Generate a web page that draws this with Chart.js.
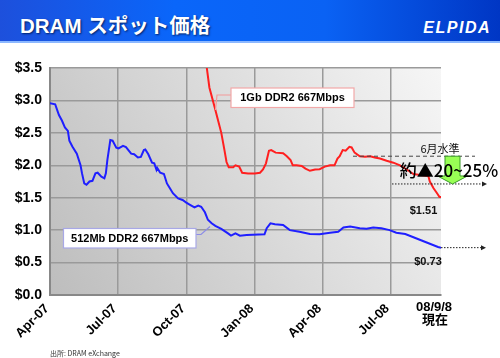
<!DOCTYPE html>
<html><head><meta charset="utf-8">
<script src="https://cdn.jsdelivr.net/npm/chart.js@4"></script>
<style>
html,body{margin:0;padding:0;background:#fff;}
#wrap{position:relative;width:500px;height:358px;overflow:hidden;}
#hdr{position:absolute;left:0;top:0;width:500px;height:41px;background:linear-gradient(90deg,#1d50dc 0%,#0a66fa 35%,#0a62f4 65%,#0036c4 100%);border-bottom:2px solid #8cb8ff;z-index:2;}
#ttl{position:absolute;left:20px;top:9px;color:#fff;font:bold 20.5px 'Liberation Sans','Noto Sans CJK JP',sans-serif;text-shadow:1px 1px 2px #002266;white-space:nowrap;}
#logo{position:absolute;right:9px;top:19px;color:#fff;font:italic bold 16px 'Liberation Sans',sans-serif;letter-spacing:1.5px;}
canvas{position:absolute;left:0;top:0;}
</style></head>
<body><div id="wrap">
<canvas id="c" width="500" height="358"></canvas>
<div id="hdr"><div id="ttl">DRAM スポット価格</div><div id="logo">ELPIDA</div></div>
</div>
<script>
// x values: days since 2007-04-01
const tickDays = [0, 91, 183, 275, 366, 457];
const tickLabels = ['Apr-07', 'Jul-07', 'Oct-07', 'Jan-08', 'Apr-08', 'Jul-08'];
const endDay = 525; // 2008-09-08
const endLabel = ['08/9/8', '現在'];

const blueName = '512Mb DDR2 667Mbps';
const blueDays = [0,7,12,16,20,24,26,30,36,41,43,46,49,53,57,61,64,69,73,75,77,81,84,89,92,98,102,109,113,118,122,126,128,132,137,140,143,144,148,153,157,161,165,172,178,183,188,194,199,203,208,212,217,222,230,239,243,249,255,264,288,291,296,302,313,322,335,349,362,376,387,394,403,416,425,434,445,456,465,477,488,499,510,521,525];
const blueValues = [2.955,2.94,2.775,2.69,2.585,2.53,2.38,2.29,2.18,2.0,1.875,1.72,1.70,1.75,1.76,1.875,1.885,1.825,1.80,1.875,2.08,2.39,2.38,2.27,2.26,2.30,2.28,2.18,2.17,2.12,2.13,2.235,2.245,2.17,2.04,2.03,1.93,1.96,1.885,1.865,1.72,1.645,1.57,1.49,1.465,1.425,1.39,1.35,1.38,1.36,1.275,1.16,1.105,1.065,1.02,0.95,0.915,0.95,0.915,0.925,0.935,1.03,1.105,1.09,1.08,1.0,0.975,0.94,0.935,0.96,0.975,1.04,1.055,1.03,1.02,1.04,1.03,1.0,0.96,0.94,0.89,0.84,0.79,0.74,0.73];

const redName = '1Gb DDR2 667Mbps';
const redDays = [210,214,221,225,230,234,237,240,246,249,254,258,266,275,282,286,290,294,297,303,313,318,323,326,331,338,343,349,356,362,369,376,382,386,389,393,397,402,405,409,416,423,430,436,443,452,461,470,479,488,497,508,510,515,519,523,525];
const redValues = [3.55,3.2,2.9,2.72,2.5,2.25,2.05,1.97,1.97,2.0,1.98,1.885,1.875,1.875,1.885,1.935,2.03,2.225,2.235,2.195,2.185,2.14,2.08,2.0,2.0,1.99,1.95,1.915,1.935,1.94,1.98,2.0,2.0,2.105,2.14,2.235,2.225,2.285,2.275,2.195,2.14,2.13,2.14,2.12,2.105,2.07,2.04,2.0,1.935,1.865,1.85,1.835,1.75,1.645,1.58,1.51,1.51];

const juneLevel = 2.14;
const dropLabel = '約▲20~25%';
const juneLabel = '6月水準';
const redEndLabel = '$1.51';
const blueEndLabel = '$0.73';
const sourceLabel = '出所: DRAM eXchange';

const F = "'Liberation Sans','Noto Sans CJK JP',sans-serif";
const FJ = "'Noto Sans CJK JP','Liberation Sans',sans-serif";

const bgPlugin = {
  id: 'bg',
  beforeDraw(chart) {
    const {ctx, chartArea: a} = chart;
    const g = ctx.createLinearGradient(a.left, a.bottom, a.right, a.top);
    g.addColorStop(0, '#bdbdbd');
    g.addColorStop(1, '#f6f6f6');
    ctx.save();
    ctx.fillStyle = g;
    ctx.fillRect(a.left, a.top, a.right - a.left, a.bottom - a.top);
    ctx.restore();
  }
};

function arrowLine(ctx, x1, y, x2) {
  ctx.save();
  ctx.strokeStyle = '#222'; ctx.lineWidth = 1; ctx.setLineDash([1.5, 1.5]);
  ctx.beginPath(); ctx.moveTo(x1, y); ctx.lineTo(x2 - 4, y); ctx.stroke();
  ctx.setLineDash([]); ctx.fillStyle = '#222';
  ctx.beginPath(); ctx.moveTo(x2, y); ctx.lineTo(x2 - 5, y - 2.5); ctx.lineTo(x2 - 5, y + 2.5); ctx.closePath(); ctx.fill();
  ctx.restore();
}

const annPlugin = {
  id: 'ann',
  afterDatasetsDraw(chart) {
    const {ctx, chartArea: a, scales: {x, y}} = chart;
    ctx.save();
    function box(text, bx, by, bw, bh, border) {
      ctx.fillStyle = '#fff'; ctx.fillRect(bx, by, bw, bh);
      ctx.strokeStyle = border; ctx.lineWidth = 1.2; ctx.strokeRect(bx, by, bw, bh);
      ctx.fillStyle = '#000'; ctx.font = 'bold 11px ' + F; ctx.textAlign = 'center'; ctx.textBaseline = 'middle';
      ctx.fillText(text, bx + bw / 2, by + bh / 2 + 0.5);
    }
    ctx.strokeStyle = '#f39a9a'; ctx.lineWidth = 1.2;
    ctx.beginPath(); ctx.moveTo(231, 95); ctx.lineTo(217, 95); ctx.lineTo(215.5, 110); ctx.stroke();
    box(redName, 231, 88, 123, 19.5, '#f2a8a8');
    ctx.strokeStyle = '#8c8ce6'; ctx.lineWidth = 1.2;
    ctx.beginPath(); ctx.moveTo(196, 234.5); ctx.lineTo(201, 234.5); ctx.lineTo(210, 226.5); ctx.stroke();
    box(blueName, 63.5, 228.5, 132.5, 19.5, '#a8a8e6');

    const ex = x.getPixelForValue(endDay);
    ctx.fillStyle = '#111'; ctx.font = 'bold 11px ' + F; ctx.textAlign = 'center'; ctx.textBaseline = 'middle';
    ctx.fillText(redEndLabel, ex - 17.5, y.getPixelForValue(1.51) + 14);
    ctx.fillText(blueEndLabel, ex - 13, y.getPixelForValue(0.73) + 14);

    const yj = y.getPixelForValue(juneLevel);
    ctx.strokeStyle = '#444'; ctx.lineWidth = 1; ctx.setLineDash([4, 3]);
    ctx.beginPath(); ctx.moveTo(353, yj); ctx.lineTo(475, yj); ctx.stroke();
    ctx.setLineDash([]);
    ctx.fillStyle = '#111'; ctx.font = '11px ' + FJ; ctx.textAlign = 'center';
    ctx.fillText(juneLabel, 440, yj - 7);

    const yd = y.getPixelForValue(juneLevel * 0.8);
    arrowLine(ctx, 392, yd, 487);
    arrowLine(ctx, ex, y.getPixelForValue(0.73), 486);

    const cx = 452.5;
    ctx.fillStyle = '#99ff55'; ctx.strokeStyle = '#3a9a2a'; ctx.lineWidth = 1;
    ctx.beginPath();
    ctx.moveTo(cx - 7.5, yj); ctx.lineTo(cx + 7.5, yj); ctx.lineTo(cx + 7.5, yd - 8);
    ctx.lineTo(cx + 15, yd - 8); ctx.lineTo(cx, yd); ctx.lineTo(cx - 15, yd - 8);
    ctx.lineTo(cx - 7.5, yd - 8); ctx.closePath(); ctx.fill(); ctx.stroke();

    ctx.fillStyle = '#000'; ctx.font = '500 17px ' + FJ; ctx.textAlign = 'center'; ctx.textBaseline = 'middle';
    ctx.fillText(dropLabel, 449, (yj + yd) / 2);

    ctx.font = 'bold 13px ' + F;
    ctx.fillText(endLabel[0], ex - 7, 307);
    ctx.font = 'bold 13px ' + FJ;
    ctx.fillText(endLabel[1], ex - 6, 319);

    ctx.font = '7px ' + FJ; ctx.fillStyle = '#333'; ctx.textAlign = 'left';
    ctx.fillText(sourceLabel, 50, 353);
    ctx.restore();
  }
};

new Chart(document.getElementById('c'), {
  type: 'line',
  data: {
    datasets: [
      { label: blueName, data: blueDays.map((d, i) => ({x: d, y: blueValues[i]})), borderColor: '#1f1fff', borderWidth: 2, pointRadius: 0, tension: 0 },
      { label: redName, data: redDays.map((d, i) => ({x: d, y: redValues[i]})), borderColor: '#ff1f1f', borderWidth: 2, pointRadius: 0, tension: 0 }
    ]
  },
  options: {
    responsive: false, animation: false,
    layout: { padding: { top: 68, right: 59, left: 0, bottom: 0 } },
    plugins: { legend: { display: false }, tooltip: { enabled: false } },
    scales: {
      x: {
        type: 'linear', min: 0, max: endDay,
        afterBuildTicks(s) { s.ticks = tickDays.map(v => ({value: v})); },
        afterFit(s) { s.height = 63; },
        grid: { color: '#9a9a9a', lineWidth: 1.5, drawTicks: false },
        border: { color: '#888', width: 2 },
        ticks: { autoSkip: false, minRotation: 45, maxRotation: 45, padding: 6, labelOffset: -3, color: '#000', font: { family: F, size: 13, weight: 'bold' },
          callback(v, i) { return tickLabels[i]; } }
      },
      y: {
        min: 0, max: 3.5,
        afterFit(s) { s.width = 50; },
        grid: { color: '#9a9a9a', lineWidth: 1.5, drawTicks: false },
        border: { color: '#888', width: 2 },
        ticks: { stepSize: 0.5, padding: 8, color: '#000', font: { family: F, size: 14, weight: 'bold' },
          callback(v) { return '$' + v.toFixed(1); } }
      }
    }
  },
  plugins: [bgPlugin, annPlugin]
});
</script>
</body></html>
